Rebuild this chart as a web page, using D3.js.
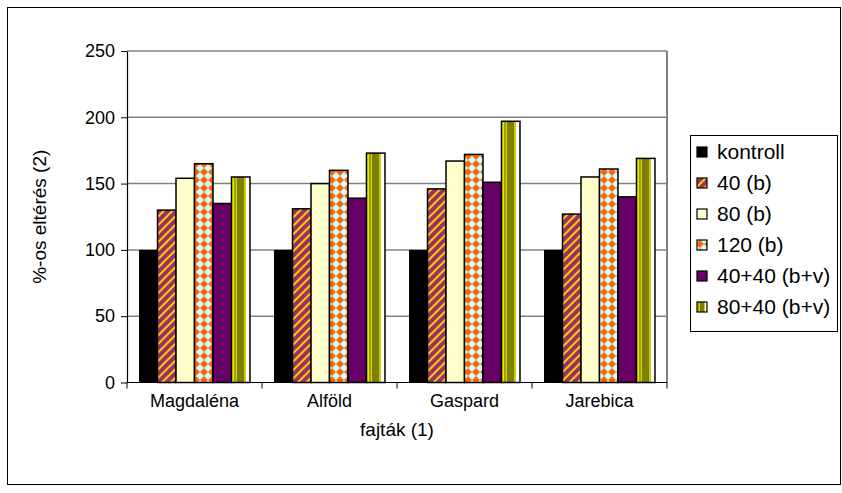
<!DOCTYPE html>
<html>
<head>
<meta charset="utf-8">
<script src="https://cdn.jsdelivr.net/npm/d3@7"></script>
<style>
  html, body { margin: 0; padding: 0; background: #fff; }
  svg { display: block; font-family: "Liberation Sans", Arial, sans-serif; }
</style>
</head>
<body>
<svg id="chart" width="842" height="493"></svg>
<script>
// Varieties (x categories) and treatment series, % relative to control
const categories = ["Magdaléna", "Alföld", "Gaspard", "Jarebica"];
const seriesNames = ["kontroll", "40 (b)", "80 (b)", "120 (b)", "40+40 (b+v)", "80+40 (b+v)"];
const kontroll = [100, 100, 100, 100];
const b40 = [130, 131, 146, 127];
const b80 = [154, 150, 167, 155];
const b120 = [165, 160, 172, 161];
const bv4040 = [135, 139, 151, 140];
const bv8040 = [155, 173, 197, 169];
const yTicks = [0, 50, 100, 150, 200, 250];
const xTitle = "fajták (1)";
const yTitle = "%-os eltérés (2)";

const seriesValues = [kontroll, b40, b80, b120, bv4040, bv8040];

const svg = d3.select("#chart");
const defs = svg.append("defs");

// Fill patterns for the treatment series
const stripes = defs.append("pattern")
  .attr("id", "p-stripes").attr("patternUnits", "userSpaceOnUse")
  .attr("width", 6).attr("height", 6).attr("patternTransform", "rotate(45)");
stripes.append("rect").attr("width", 6).attr("height", 6).attr("fill", "#993366");
stripes.append("rect").attr("width", 2).attr("height", 6).attr("fill", "#FFCC00");

const diamonds = defs.append("pattern")
  .attr("id", "p-diamonds").attr("patternUnits", "userSpaceOnUse")
  .attr("width", 8).attr("height", 8);
diamonds.append("rect").attr("width", 8).attr("height", 8).attr("fill", "#CCFFFF");
diamonds.append("path").attr("d", "M4,0 L8,4 L4,8 L0,4 Z").attr("fill", "#FF6600");

const cyl = defs.append("linearGradient")
  .attr("id", "g-cyl").attr("x1", 0).attr("x2", 1).attr("y1", 0).attr("y2", 0);
[[0, "#E6E600"], [0.14, "#E6E600"], [0.14, "#A0A000"], [0.22, "#A0A000"], [0.22, "#D4D400"],
 [0.32, "#D4D400"], [0.32, "#808000"], [0.66, "#808000"], [0.66, "#CCCC00"], [0.8, "#CCCC00"],
 [0.8, "#FFFFFF"], [1, "#FFFFFF"]]
  .forEach(([o, c]) => cyl.append("stop").attr("offset", o).attr("stop-color", c));

const fills = ["#000000", "url(#p-stripes)", "#FFFFCC", "url(#p-diamonds)", "#660066", "url(#g-cyl)"];

// Outer frame
svg.append("rect").attr("x", 7.5).attr("y", 7.5).attr("width", 833).attr("height", 477)
  .attr("fill", "#fff").attr("stroke", "#000").attr("stroke-width", 1);

// Plot area
const plot = { left: 127, right: 667, top: 51, bottom: 382.5 };

const x = d3.scaleBand().domain(categories).range([plot.left, plot.right]).paddingInner(0).paddingOuter(0);
const xs = d3.scaleBand().domain(seriesNames).range([0, x.bandwidth()]).paddingInner(0).paddingOuter(0.65);
const y = d3.scaleLinear().domain([0, 250]).range([plot.bottom, plot.top]);

// Gridlines
svg.append("g").selectAll("line").data(yTicks.filter(t => t > 0)).join("line")
  .attr("x1", plot.left).attr("x2", plot.right)
  .attr("y1", d => y(d)).attr("y2", d => y(d))
  .attr("stroke", "#808080").attr("stroke-width", 1.5);

// Right border of plot area
svg.append("line").attr("x1", plot.right).attr("x2", plot.right)
  .attr("y1", plot.top).attr("y2", plot.bottom)
  .attr("stroke", "#808080").attr("stroke-width", 2);

// Bars
const bars = svg.append("g");
seriesNames.forEach((name, si) => {
  bars.append("g").selectAll("rect").data(categories).join("rect")
    .attr("x", c => x(c) + xs(name))
    .attr("y", (c, i) => y(seriesValues[si][i]))
    .attr("width", xs.bandwidth())
    .attr("height", (c, i) => y(0) - y(seriesValues[si][i]))
    .attr("fill", fills[si])
    .attr("stroke", "#000")
    .attr("stroke-width", si === 0 ? 0 : 1.5);
});

// Y axis
const yAxis = d3.axisLeft(y).tickValues(yTicks).tickSize(6).tickSizeOuter(0).tickPadding(6);
const gy = svg.append("g").attr("transform", `translate(${plot.left},0)`).call(yAxis);
gy.select(".domain").attr("stroke", "#000").attr("stroke-width", 1.2);
gy.selectAll(".tick line").attr("stroke", "#000");
gy.selectAll("text").attr("font-size", 18).attr("fill", "#000")
  .attr("font-family", "Liberation Sans, Arial, sans-serif");

// X axis with ticks at category boundaries
const gx = svg.append("g").attr("transform", `translate(0,${plot.bottom})`);
gx.append("line").attr("x1", plot.left).attr("x2", plot.right).attr("y1", 0).attr("y2", 0)
  .attr("stroke", "#000").attr("stroke-width", 1.2);
const boundaries = categories.map(c => x(c)).concat([x(categories[categories.length - 1]) + x.bandwidth()]);
gx.selectAll("line.tb").data(boundaries).join("line").attr("class", "tb")
  .attr("x1", d => d).attr("x2", d => d).attr("y1", 0).attr("y2", 6)
  .attr("stroke", "#000");
gx.selectAll("text").data(categories).join("text")
  .attr("x", c => x(c) + x.bandwidth() / 2).attr("y", 24)
  .attr("text-anchor", "middle").attr("font-size", 18).text(c => c);

// Axis titles
svg.append("text").attr("x", (plot.left + plot.right) / 2).attr("y", 436)
  .attr("text-anchor", "middle").attr("font-size", 19).text(xTitle);
svg.append("text")
  .attr("transform", `translate(46,${(plot.top + plot.bottom) / 2}) rotate(-90)`)
  .attr("text-anchor", "middle").attr("font-size", 19).text(yTitle);

// Legend
const legend = svg.append("g");
legend.append("rect").attr("x", 690.5).attr("y", 135.5).attr("width", 147).attr("height", 196)
  .attr("fill", "#fff").attr("stroke", "#000").attr("stroke-width", 1);
const ly = d3.scalePoint().domain(seriesNames).range([152, 307]);
seriesNames.forEach((name, si) => {
  legend.append("rect").attr("x", 697).attr("y", ly(name) - 5).attr("width", 10).attr("height", 10)
    .attr("fill", fills[si]).attr("stroke", "#000").attr("stroke-width", 1.2);
  legend.append("text").attr("x", 717).attr("y", ly(name)).attr("dy", "0.35em")
    .attr("font-size", 21).text(name);
});
</script>
</body>
</html>
